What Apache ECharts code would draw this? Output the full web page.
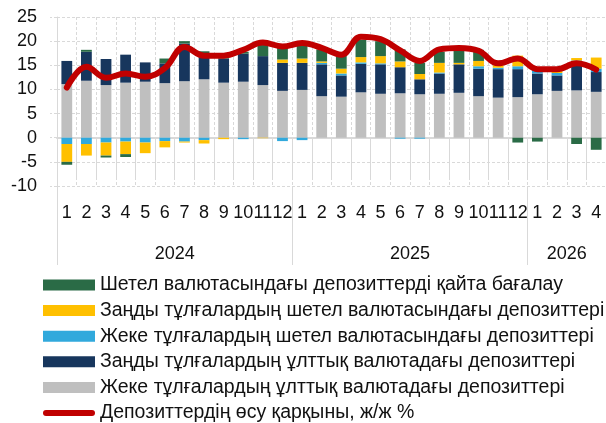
<!DOCTYPE html>
<html>
<head>
<meta charset="utf-8">
<script src="https://cdn.jsdelivr.net/npm/echarts@6/dist/echarts.min.js"></script>
<style>
html,body{margin:0;padding:0;background:#fff;}
#chart{width:606px;height:423px;}
</style>
</head>
<body>
<div id="chart"></div>
<script>
// Categories
var months = ['1','2','3','4','5','6','7','8','9','10','11','12',
              '1','2','3','4','5','6','7','8','9','10','11','12',
              '1','2','3','4'];
var years = ['2024','2024','2024','2024','2024','2024','2024','2024','2024','2024','2024','2024',
             '2025','2025','2025','2025','2025','2025','2025','2025','2025','2025','2025','2025',
             '2026','2026','2026','2026'];
var yTicks = [-10, -5, 0, 5, 10, 15, 20, 25];

// Series names
var nameGreen = 'Шетел валютасындағы депозиттерді қайта бағалау';
var nameYellow = 'Заңды тұлғалардың шетел валютасындағы депозиттері';
var nameBlue = 'Жеке тұлғалардың шетел валютасындағы депозиттері';
var nameNavy = 'Заңды тұлғалардың ұлттық валютадағы депозиттері';
var nameGrey = 'Жеке тұлғалардың ұлттық валютадағы депозиттері';
var nameLine = 'Депозиттердің өсу қарқыны, ж/ж %';

// Values (pp / %)
var greyVals = [11.1, 11.8, 10.9, 11.4, 11.6, 11.3, 11.7, 12.1, 11.4, 11.6, 10.9, 9.7,
                9.9, 8.6, 8.5, 9.4, 9.1, 9.2, 9.0, 9.1, 9.3, 8.6, 8.3, 8.4,
                9.0, 9.7, 9.8, 9.5];
var navyVals = [4.8, 6.0, 5.4, 5.8, 4.0, 4.1, 7.8, 5.2, 5.0, 5.8, 6.0, 5.8,
                5.6, 6.6, 4.4, 5.9, 6.1, 5.4, 3.1, 4.2, 5.9, 5.7, 5.9, 5.8,
                4.3, 3.2, 6.1, 4.1];
var blueVals = [-1.3, -1.3, -1.0, -0.8, -1.0, -0.7, -0.8, -0.5, 0, -0.3, 0, -0.7,
                -0.5, 0.3, 0.4, 0.3, 0.2, -0.2, -0.2, 0.2, 0, 0.5, 0.3, 0.6,
                0.7, 0.5, 0.1, 0.7];
var yellowVals = [-3.7, -2.4, -2.7, -2.6, -2.2, -1.3, -0.2, -0.7, -0.3, 0, -0.1, 0.7,
                  0.9, 0.3, 1.0, 1.1, 1.5, 1.2, 1.1, 2.0, 0.3, 1.1, 0.5, 2.2,
                  0.5, 0.4, 0.5, 2.3];
var greenVals = [-0.6, 0.4, -0.4, -0.6, 0, 1.0, 0.5, 0.6, 0.3, 0.4, 2.4, 2.4,
                 2.8, 2.5, 2.8, 3.6, 3.1, 2.5, 2.3, 2.3, 2.6, 2.3, 0, -1.0,
                 -0.8, 0, -1.3, -2.5];
var growthVals = [10.4, 14.7, 12.4, 13.3, 12.6, 14.4, 18.8, 17.0, 17.0, 18.2, 19.7, 18.9,
                  19.6, 18.6, 17.2, 20.9, 20.4, 18.1, 15.9, 18.3, 18.6, 18.0, 15.4, 16.4,
                  14.2, 14.2, 15.4, 14.1];

var FONT = 'Liberation Sans';
var gridColor = '#D9D9D9';
var lineIcon = 'path://M3,0 L49,0 A3,3 0 0 1 49,6 L3,6 A3,3 0 0 1 3,0 Z';

var chart = echarts.init(document.getElementById('chart'), null, {renderer: 'canvas'});

function barSeries(name, vals, color) {
  return {
    name: name, type: 'bar', stack: 'total', data: vals,
    barWidth: '55%', xAxisIndex: 0, yAxisIndex: 0,
    itemStyle: {color: color},
    emphasis: {disabled: true}
  };
}

var option = {
  animation: false,
  backgroundColor: '#ffffff',
  textStyle: {fontFamily: FONT},
  grid: {left: 57, top: 17, width: 553, height: 169, containLabel: false},
  legend: {
    orient: 'vertical', left: 43, top: 275, height: 170, padding: 0,
    itemWidth: 52, itemHeight: 11, itemGap: 5.6,
    selectedMode: false,
    textStyle: {fontFamily: FONT, fontSize: 19.5, color: '#111', lineHeight: 20},
    data: [
      {name: nameGreen, icon: 'rect'},
      {name: nameYellow, icon: 'rect'},
      {name: nameBlue, icon: 'rect'},
      {name: nameNavy, icon: 'rect'},
      {name: nameGrey, icon: 'rect'},
      {name: nameLine, icon: lineIcon, itemStyle: {color: '#C00000'}}
    ]
  },
  xAxis: [
    {
      type: 'category', data: months, position: 'bottom', boundaryGap: true,
      axisLine: {show: false},
      axisTick: {show: true, interval: 0, length: 41, lineStyle: {color: gridColor, width: 1}},
      axisLabel: {interval: 0, margin: 18, fontFamily: FONT, fontSize: 18, color: '#111', hideOverlap: false},
      splitLine: {show: true, interval: 0, lineStyle: {color: gridColor, type: [3, 2], width: 1}}
    },
    {
      type: 'category', data: years, position: 'bottom', boundaryGap: true,
      axisLine: {show: false},
      axisTick: {show: true, length: 79, interval: function (i) { return i % 12 === 0; },
                 lineStyle: {color: gridColor, width: 1}},
      axisLabel: {
        margin: 59, fontFamily: FONT, fontSize: 18, color: '#111',
        interval: function (i) { return i === 5 || i === 17 || i === 25; },
        padding: [0, 0, 0, 19.76]
      },
      splitLine: {show: false}
    },
    {
      type: 'category', data: months, position: 'bottom', boundaryGap: true,
      axisLine: {show: true, onZero: true, onZeroAxisIndex: 0, lineStyle: {color: gridColor, width: 2}},
      axisTick: {show: false}, axisLabel: {show: false}, splitLine: {show: false}
    }
  ],
  yAxis: {
    type: 'value', min: yTicks[0], max: yTicks[yTicks.length - 1], interval: 5,
    axisLine: {show: true, lineStyle: {color: gridColor, width: 1}},
    axisTick: {show: true, length: 7, lineStyle: {color: gridColor, type: [3, 2]}},
    axisLabel: {margin: 20, fontFamily: FONT, fontSize: 18, color: '#111'},
    splitLine: {show: true, lineStyle: {color: gridColor, type: [3, 2], width: 1}}
  },
  series: [
    barSeries(nameGrey, greyVals, '#BFBFBF'),
    barSeries(nameNavy, navyVals, '#17365D'),
    barSeries(nameBlue, blueVals, '#31A9DC'),
    barSeries(nameYellow, yellowVals, '#FFC000'),
    barSeries(nameGreen, greenVals, '#2A6B46'),
    {
      name: nameLine, type: 'line', data: growthVals, smooth: 0.4,
      symbol: 'none', showSymbol: false, z: 10,
      lineStyle: {color: '#C00000', width: 6, cap: 'round', join: 'round'},
      itemStyle: {color: '#C00000'},
      emphasis: {disabled: true}
    }
  ]
};
chart.setOption(option);
</script>
</body>
</html>
